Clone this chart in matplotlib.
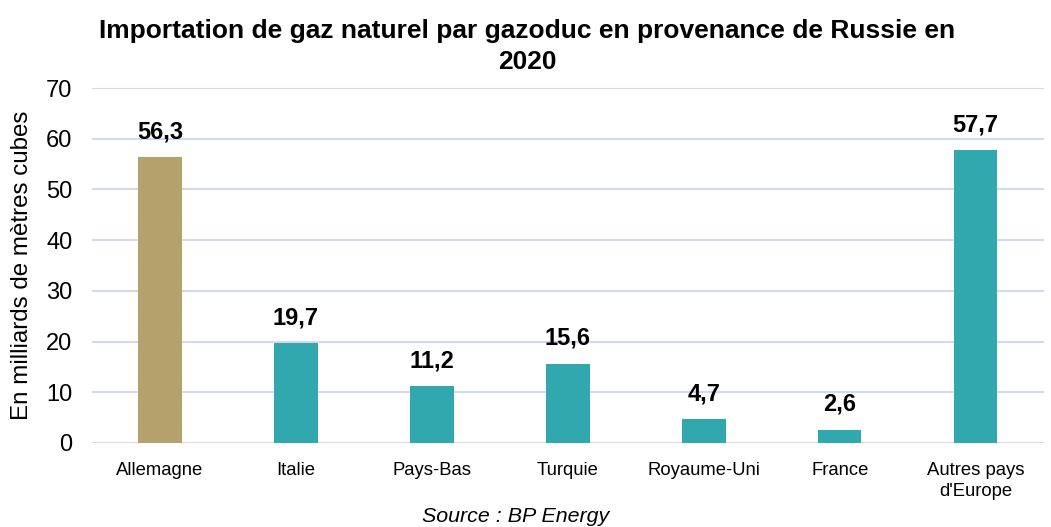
import matplotlib.pyplot as plt

# données (milliards de m3)
pays = ["Allemagne", "Italie", "Pays-Bas", "Turquie", "Royaume-Uni", "France", "Autres pays\nd'Europe"]
volumes = [56.3, 19.7, 11.2, 15.6, 4.7, 2.6, 57.7]
couleurs = ["#B4A16B", "#31A8AE", "#31A8AE", "#31A8AE", "#31A8AE", "#31A8AE", "#31A8AE"]

plt.rcParams['font.family'] = ['Liberation Sans', 'DejaVu Sans']

fig = plt.figure(figsize=(10.51, 5.27), dpi=100)
ax = fig.add_axes([0.0875, 0.1594, 0.9055, 0.6736])

x = range(len(pays))
bars = ax.bar(x, volumes, width=0.32, color=couleurs, zorder=3)

for b, v in zip(bars, volumes):
    ax.annotate(f"{v:.1f}".replace(".", ","), (b.get_x() + b.get_width() / 2, v),
                xytext=(0, 10), textcoords="offset points", ha="center", va="bottom",
                fontsize=17, fontweight="bold")

ax.set_xlim(-0.5, len(pays) - 0.5)
ax.set_ylim(0, 70)
ax.set_yticks(range(0, 71, 10))
ax.set_xticks(list(x))
ax.set_xticklabels(pays, fontsize=13.3, linespacing=1.3)
ax.tick_params(axis="y", labelsize=17, length=0, pad=14)
ax.tick_params(axis="x", length=0, pad=14)
ax.grid(axis="y", color="#D3DAF0", linewidth=1.5, zorder=0)
for s in ax.spines.values():
    s.set_visible(False)

ax.set_ylabel("En milliards de mètres cubes", fontsize=17.4)
ax.yaxis.set_label_coords(-0.062, 0.5)
fig.text(0.5015, 0.963, "Importation de gaz naturel par gazoduc en provenance de Russie en\n2020",
         ha="center", va="top", fontsize=19, fontweight="bold", linespacing=1.32)
fig.text(0.491, 0.001, "Source : BP Energy", ha="center", va="bottom", fontsize=15.4, style="italic")

fig.savefig("out.png", dpi=100)
